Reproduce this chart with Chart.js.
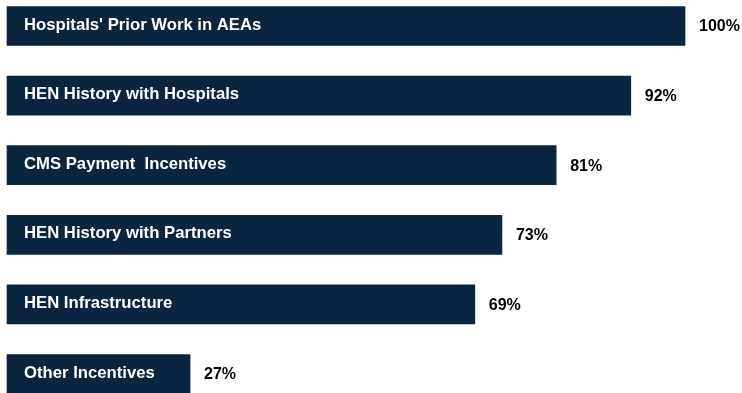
<!DOCTYPE html>
<html>
<head>
<meta charset="utf-8">
<script src="https://cdn.jsdelivr.net/npm/chart.js@4/dist/chart.umd.min.js"></script>
<style>
  html, body { margin: 0; padding: 0; background: #fff; }
  #wrap { width: 742px; height: 393px; position: relative; }
</style>
</head>
<body>
<div id="wrap"><canvas id="chart"></canvas></div>
<script>
// categories and values
const categories = [
  "Hospitals' Prior Work in AEAs",
  'HEN History with Hospitals',
  'CMS Payment  Incentives',
  'HEN History with Partners',
  'HEN Infrastructure',
  'Other Incentives'
];
const values = [100, 92, 81, 73, 69, 27];

const BAR = '#0a2540';
const NAME_FONT = 'bold 16.7px "Liberation Sans", Arial, sans-serif';
const PCT_FONT = 'bold 16px "Liberation Sans", Arial, sans-serif';

// labels: category inside bar (white), percentage after bar end (black)
const barLabels = {
  id: 'barLabels',
  afterDatasetsDraw(chart) {
    const ctx = chart.ctx;
    const meta = chart.getDatasetMeta(0);
    ctx.save();
    ctx.textBaseline = 'middle';
    ctx.textAlign = 'left';
    meta.data.forEach((bar, i) => {
      ctx.font = NAME_FONT;
      ctx.fillStyle = '#ffffff';
      ctx.fillText(categories[i], bar.base + 17, bar.y - 1);
      ctx.font = PCT_FONT;
      ctx.fillStyle = '#000000';
      ctx.fillText(values[i] + '%', bar.x + 14, bar.y + 1);
    });
    ctx.restore();
  }
};

new Chart(document.getElementById('chart'), {
  type: 'bar',
  data: {
    labels: categories,
    datasets: [{
      data: values,
      backgroundColor: BAR,
      borderWidth: 0,
      barThickness: 39,
      clip: false
    }]
  },
  options: {
    indexAxis: 'y',
    responsive: true,
    maintainAspectRatio: false,
    animation: false,
    layout: { padding: { left: 7, right: 57, top: 26, bottom: 19 } },
    plugins: { legend: { display: false }, tooltip: { enabled: false } },
    scales: {
      x: { display: false, min: 0, max: 100 },
      y: { display: false, offset: false }
    }
  },
  plugins: [barLabels]
});
</script>
</body>
</html>
